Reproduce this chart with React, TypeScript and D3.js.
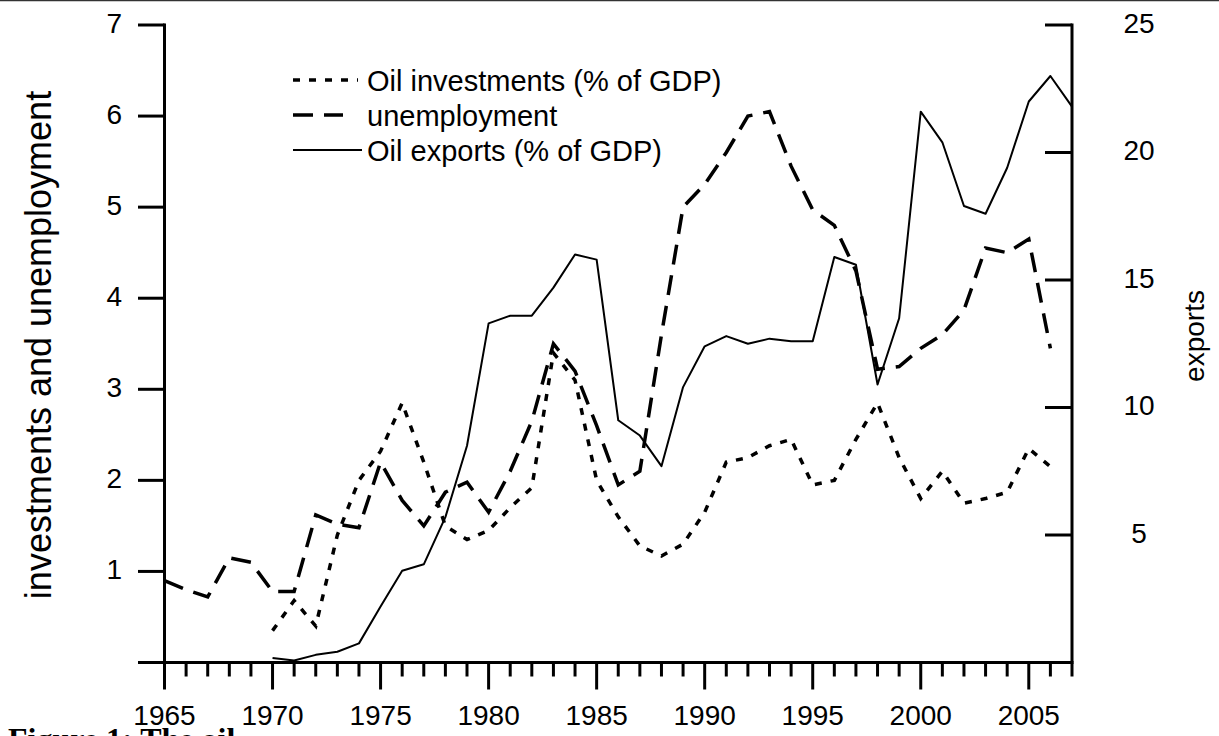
import React from "react";
import * as d3 from "d3";

// values
const unempYears = [1965, 1966, 1967, 1968, 1969, 1970, 1971, 1972, 1973, 1974, 1975, 1976, 1977, 1978, 1979, 1980, 1981, 1982, 1983, 1984, 1985, 1986, 1987, 1988, 1989, 1990, 1991, 1992, 1993, 1994, 1995, 1996, 1997, 1998, 1999, 2000, 2001, 2002, 2003, 2004, 2005, 2006];
const unemployment = [0.9, 0.8, 0.72, 1.15, 1.1, 0.78, 0.78, 1.62, 1.52, 1.48, 2.2, 1.78, 1.5, 1.87, 1.98, 1.65, 2.1, 2.65, 3.5, 3.2, 2.6, 1.95, 2.1, 3.6, 5.0, 5.25, 5.6, 6.0, 6.05, 5.45, 4.97, 4.8, 4.3, 3.22, 3.25, 3.45, 3.6, 3.87, 4.55, 4.5, 4.65, 3.45];

const investYears = [1970, 1971, 1972, 1973, 1974, 1975, 1976, 1977, 1978, 1979, 1980, 1981, 1982, 1983, 1984, 1985, 1986, 1987, 1988, 1989, 1990, 1991, 1992, 1993, 1994, 1995, 1996, 1997, 1998, 1999, 2000, 2001, 2002, 2003, 2004, 2005, 2006];
const investments = [0.35, 0.68, 0.4, 1.4, 2.0, 2.32, 2.85, 2.2, 1.5, 1.35, 1.45, 1.7, 1.92, 3.4, 3.1, 2.0, 1.6, 1.28, 1.17, 1.3, 1.65, 2.2, 2.25, 2.38, 2.45, 1.95, 2.0, 2.45, 2.85, 2.25, 1.8, 2.1, 1.75, 1.8, 1.87, 2.35, 2.15];

const exportYears = [1970, 1971, 1972, 1973, 1974, 1975, 1976, 1977, 1978, 1979, 1980, 1981, 1982, 1983, 1984, 1985, 1986, 1987, 1988, 1989, 1990, 1991, 1992, 1993, 1994, 1995, 1996, 1997, 1998, 1999, 2000, 2001, 2002, 2003, 2004, 2005, 2006, 2007];
const exportsPct = [0.18, 0.08, 0.3, 0.42, 0.75, 2.2, 3.6, 3.85, 5.7, 8.5, 13.3, 13.6, 13.6, 14.7, 16.0, 15.8, 9.5, 8.9, 7.7, 10.8, 12.4, 12.8, 12.5, 12.7, 12.6, 12.6, 15.9, 15.6, 10.9, 13.5, 21.6, 20.4, 17.9, 17.6, 19.4, 22.0, 23.0, 21.8];

const majorYears = [1965, 1970, 1975, 1980, 1985, 1990, 1995, 2000, 2005];
const leftTicks = [1, 2, 3, 4, 5, 6, 7];
const rightTicks = [5, 10, 15, 20, 25];

const legendItems = [
  { label: "Oil investments (% of GDP)", dash: "7 9", width: 3.5, len: 65 },
  { label: "unemployment", dash: "20 11", width: 3.5, len: 50 },
  { label: "Oil exports (% of GDP)", dash: null, width: 2, len: 69 },
];

const W = 1219;
const H = 736;
const FONT = "'Liberation Sans', Arial, sans-serif";

export default function App() {
  const x = d3.scaleLinear().domain([1965, 2007]).range([164.5, 1072]);
  const yL = d3.scaleLinear().domain([0, 7]).range([662.5, 25]);
  const yR = d3.scaleLinear().domain([0, 25]).range([662.5, 25]);

  const lineL = d3.line<[number, number]>().x(d => x(d[0])).y(d => yL(d[1]));
  const lineR = d3.line<[number, number]>().x(d => x(d[0])).y(d => yR(d[1]));

  const unempPath = lineL(unempYears.map((yr, i) => [yr, unemployment[i]]));
  const investPath = lineL(investYears.map((yr, i) => [yr, investments[i]]));
  const exportPath = lineR(exportYears.map((yr, i) => [yr, exportsPct[i]]));

  const allYears = x.ticks(42);
  const x0 = x.range()[0];
  const x1 = x.range()[1];
  const base = yL(0);

  return (
    <svg width={W} height={H} style={{ position: "absolute", left: 0, top: 0, background: "#fff" }} fontFamily={FONT}>
      <rect width={W} height={H} fill="#fff" />
      <line x1={0} x2={W} y1={0.5} y2={0.5} stroke="#333" strokeWidth={1.5} />

      {/* series */}
      <path d={investPath || ""} fill="none" stroke="#000" strokeWidth={3.5} strokeDasharray="7 9" />
      <path d={unempPath || ""} fill="none" stroke="#000" strokeWidth={3.5} strokeDasharray="20 11" />
      <path d={exportPath || ""} fill="none" stroke="#000" strokeWidth={2} strokeLinejoin="round" />

      {/* x axis */}
      <line x1={138} x2={x1 + 1.5} y1={base} y2={base} stroke="#000" strokeWidth={3} />
      {allYears.map(yr => {
        const major = majorYears.includes(yr);
        return (
          <line key={yr} x1={x(yr)} x2={x(yr)} y1={base} y2={base + (major ? 27 : 14)} stroke="#000" strokeWidth={3} />
        );
      })}
      {majorYears.map(yr => (
        <text key={yr} x={x(yr)} y={725} textAnchor="middle" fontSize={28}>{yr}</text>
      ))}

      {/* left axis */}
      <line x1={x0} x2={x0} y1={yL(7) - 1.5} y2={base} stroke="#000" strokeWidth={3} />
      {leftTicks.map(t => (
        <g key={t}>
          <line x1={138} x2={x0} y1={yL(t)} y2={yL(t)} stroke="#000" strokeWidth={3} />
          <text x={122} y={yL(t) - 2} textAnchor="end" dominantBaseline="central" fontSize={28}>{t}</text>
        </g>
      ))}
      <text transform={`translate(38,345) rotate(-90)`} textAnchor="middle" dominantBaseline="central" fontSize={36}>
        investments and unemployment
      </text>

      {/* right axis */}
      <line x1={x1} x2={x1} y1={yR(25) - 1.5} y2={base} stroke="#000" strokeWidth={3} />
      {rightTicks.map(t => (
        <g key={t}>
          <line x1={x1 - 27} x2={x1} y1={yR(t)} y2={yR(t)} stroke="#000" strokeWidth={3} />
          <text x={1139} y={yR(t) - 2} textAnchor="middle" dominantBaseline="central" fontSize={28}>{t}</text>
        </g>
      ))}
      <text transform={`translate(1194,336) rotate(-90)`} textAnchor="middle" dominantBaseline="central" fontSize={28}>
        exports
      </text>

      {/* legend */}
      {legendItems.map((it, i) => {
        const ly = 80 + i * 35;
        return (
          <g key={it.label}>
            <line x1={293} x2={293 + it.len} y1={ly} y2={ly} stroke="#000" strokeWidth={it.width}
              strokeDasharray={it.dash || undefined} />
            <text x={367} y={ly + 1} dominantBaseline="central" fontSize={29}>{it.label}</text>
          </g>
        );
      })}

      <text x={8} y={750} fontFamily="'Liberation Serif', 'Times New Roman', serif" fontWeight="bold" fontSize={32}>
        Figure 1: The oil
      </text>
    </svg>
  );
}
